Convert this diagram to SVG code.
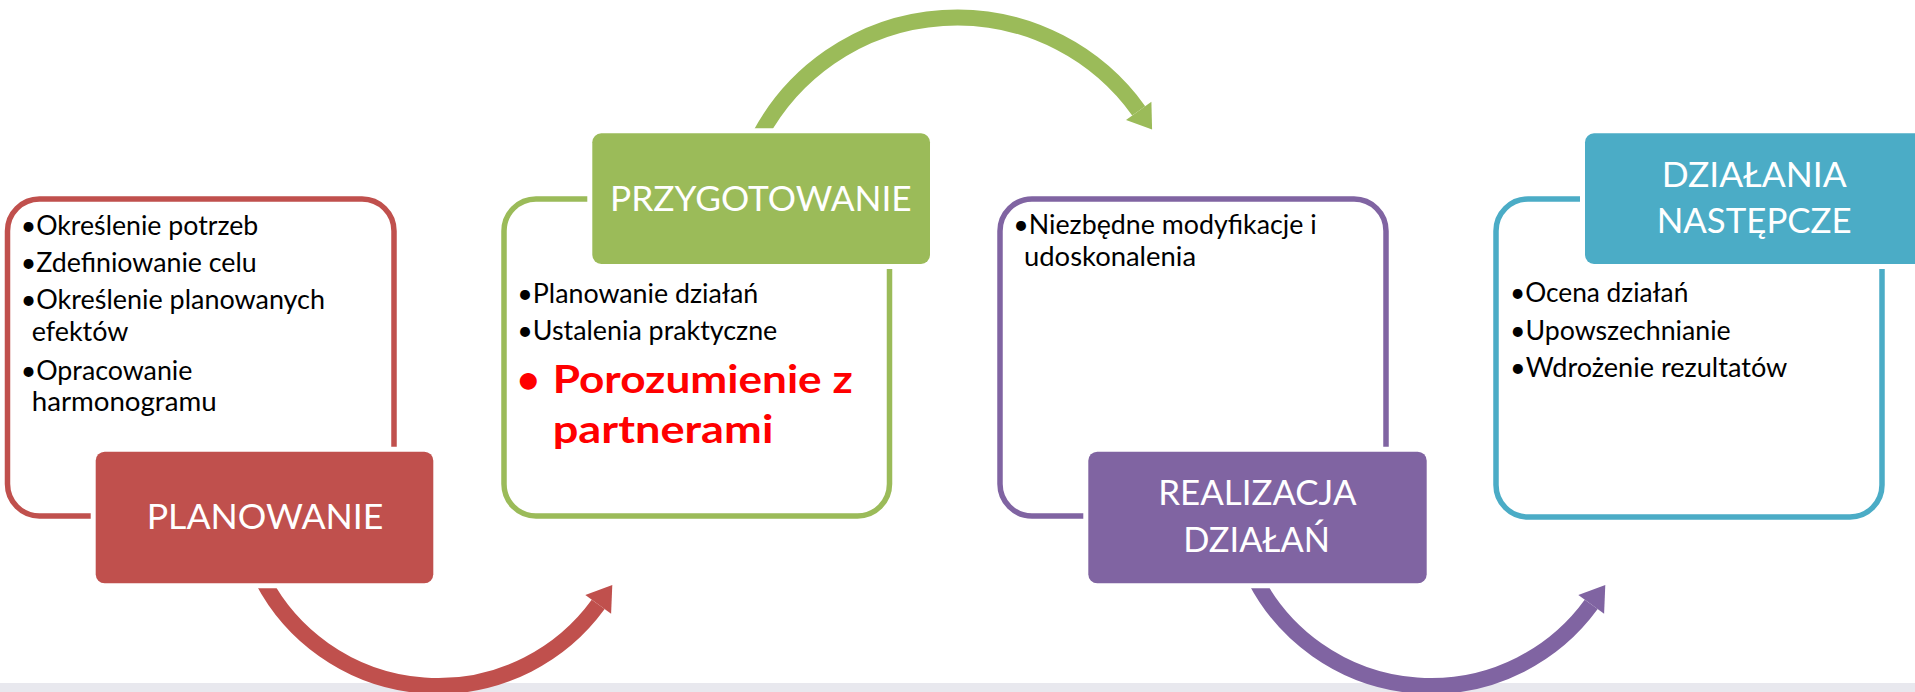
<svg xmlns="http://www.w3.org/2000/svg" width="1915" height="692" viewBox="0 0 1915 692">
<style>
.bg{fill:#ffffff}
.band{fill:#E8E8EE}
.outline{fill:#ffffff;stroke-width:5.5}
.head{stroke:#ffffff;stroke-width:10;paint-order:stroke}
.arc{fill:none;stroke-width:16}
.ht{font-family:Lato,"Open Sans",sans-serif;font-size:35px;fill:#ffffff}
.bt{font-family:Lato,"Open Sans",sans-serif;font-size:26px;fill:#000000}
.rt{font-family:Lato,"Open Sans",sans-serif;font-size:39px;font-weight:bold;fill:#FF0000}
.red{fill:#C0504D}
.green{fill:#9BBB59}
.purple{fill:#8064A2}
.teal{fill:#4BACC6}
</style>
<rect class="bg" x="0" y="0" width="1915" height="692"/>
<rect class="band" x="0" y="683" width="1915" height="9"/>

<g id="outlines">
<rect class="outline" x="7.5" y="199" width="386.5" height="317" rx="32" stroke="#C0504D"/>
<rect class="outline" x="504" y="199" width="385.5" height="317" rx="32" stroke="#9BBB59"/>
<rect class="outline" x="1000" y="199" width="386" height="317" rx="32" stroke="#8064A2"/>
<rect class="outline" x="1496" y="199" width="386" height="318" rx="32" stroke="#4BACC6"/>
</g>

<g id="connectors">
<g id="arrow-red">
<path class="arc" stroke="#C0504D" d="M 262.7 580 A 198 198 0 0 0 598.2 604.4"/>
<polygon fill="#C0504D" points="612.3,585 611.1,613.8 585.3,595"/>
</g>
<g id="arrow-purple" transform="translate(993,0)">
<path class="arc" stroke="#8064A2" d="M 262.7 580 A 198 198 0 0 0 598.2 604.4"/>
<polygon fill="#8064A2" points="612.3,585 611.1,613.8 585.3,595"/>
</g>
<g id="arrow-green">
<path class="arc" stroke="#9BBB59" d="M 760.1 135 A 223.6 223.6 0 0 1 1138.7 110.8"/>
<polygon fill="#9BBB59" points="1152.1,129.5 1151.4,101.7 1126,119.9"/>
</g>
</g>

<g id="node-planowanie">
<text class="bt" x="20.7" y="234.5" textLength="237.6" lengthAdjust="spacingAndGlyphs">•Określenie potrzeb</text>
<text class="bt" x="20.7" y="271.5" textLength="236" lengthAdjust="spacingAndGlyphs">•Zdefiniowanie celu</text>
<text class="bt" x="20.7" y="309" textLength="304.3" lengthAdjust="spacingAndGlyphs">•Określenie planowanych</text>
<text class="bt" x="31.7" y="341" textLength="96.7" lengthAdjust="spacingAndGlyphs">efektów</text>
<text class="bt" x="20.7" y="379.5" textLength="171.7" lengthAdjust="spacingAndGlyphs">•Opracowanie</text>
<text class="bt" x="31.7" y="411" textLength="185" lengthAdjust="spacingAndGlyphs">harmonogramu</text>
<rect class="head red" x="95.7" y="451.7" width="337.6" height="131.6" rx="9"/>
<text class="ht" x="146.7" y="529.3" textLength="236.7" lengthAdjust="spacingAndGlyphs">PLANOWANIE</text>
</g>

<g id="node-przygotowanie">
<rect class="head green" x="592.3" y="133.3" width="337.7" height="130.7" rx="9"/>
<text class="ht" x="610" y="210.7" textLength="301.7" lengthAdjust="spacingAndGlyphs">PRZYGOTOWANIE</text>
<text class="bt" x="517.3" y="302.7" textLength="241" lengthAdjust="spacingAndGlyphs">•Planowanie działań</text>
<text class="bt" x="517.3" y="340" textLength="260" lengthAdjust="spacingAndGlyphs">•Ustalenia praktyczne</text>
<text class="rt" x="517" y="393.3">•</text>
<text class="rt" x="552.7" y="393.3" textLength="300" lengthAdjust="spacingAndGlyphs">Porozumienie z</text>
<text class="rt" x="552.7" y="443.3" textLength="220.7" lengthAdjust="spacingAndGlyphs">partnerami</text>
</g>

<g id="node-realizacja">
<text class="bt" x="1013.3" y="234.3" textLength="303.3" lengthAdjust="spacingAndGlyphs">•Niezbędne modyfikacje i</text>
<text class="bt" x="1024" y="266" textLength="172" lengthAdjust="spacingAndGlyphs">udoskonalenia</text>
<rect class="head purple" x="1088.3" y="451.7" width="338.4" height="131.6" rx="9"/>
<text class="ht" x="1158.3" y="505" textLength="198.3" lengthAdjust="spacingAndGlyphs">REALIZACJA</text>
<text class="ht" x="1183.3" y="551.7" textLength="146.7" lengthAdjust="spacingAndGlyphs">DZIAŁAŃ</text>
</g>

<g id="node-dzialania-nastepcze">
<rect class="head teal" x="1585" y="133.3" width="345" height="130.7" rx="9"/>
<text class="ht" x="1661.7" y="186.7" textLength="185" lengthAdjust="spacingAndGlyphs">DZIAŁANIA</text>
<text class="ht" x="1656.7" y="233.3" textLength="195" lengthAdjust="spacingAndGlyphs">NASTĘPCZE</text>
<text class="bt" x="1510" y="301.7" textLength="178.3" lengthAdjust="spacingAndGlyphs">•Ocena działań</text>
<text class="bt" x="1510" y="340" textLength="220.7" lengthAdjust="spacingAndGlyphs">•Upowszechnianie</text>
<text class="bt" x="1510" y="376.7" textLength="277.3" lengthAdjust="spacingAndGlyphs">•Wdrożenie rezultatów</text>
</g>
</svg>
